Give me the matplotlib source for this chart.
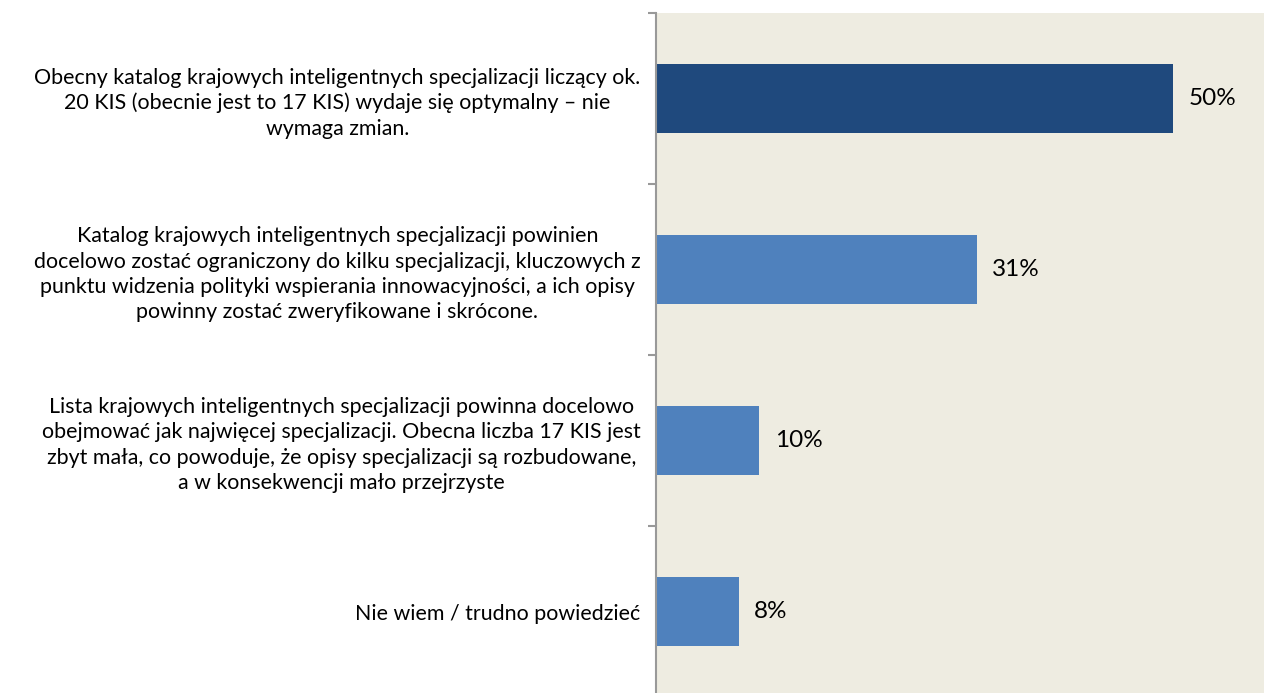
import matplotlib.pyplot as plt
import numpy as np

# survey answers, top to bottom
answers = [
    "Obecny katalog krajowych inteligentnych specjalizacji liczący ok.\n"
    "20 KIS (obecnie jest to 17 KIS) wydaje się optymalny – nie\n"
    "wymaga zmian.",
    "Katalog krajowych inteligentnych specjalizacji powinien\n"
    "docelowo zostać ograniczony do kilku specjalizacji, kluczowych z\n"
    "punktu widzenia polityki wspierania innowacyjności, a ich opisy\n"
    "powinny zostać zweryfikowane i skrócone.",
    "Lista krajowych inteligentnych specjalizacji powinna docelowo\n"
    "obejmować jak najwięcej specjalizacji. Obecna liczba 17 KIS jest\n"
    "zbyt mała, co powoduje, że opisy specjalizacji są rozbudowane,\n"
    "a w konsekwencji mało przejrzyste",
    "Nie wiem / trudno powiedzieć",
]
shares = [50, 31, 10, 8]
colors = ["#1F497D", "#4F81BD", "#4F81BD", "#4F81BD"]

plt.rcParams["font.family"] = ["Lato", "DejaVu Sans"]

fig = plt.figure(figsize=(12.64, 6.93), dpi=100)
ax = fig.add_axes([656 / 1264, -4 / 693, 608 / 1264, 684 / 693])
ax.set_facecolor("#EEECE1")

y = np.arange(len(shares))
ax.barh(y, shares, height=0.4, color=colors, zorder=2)
for yi, v in zip(y, shares):
    ax.text(v + 1.5, yi, f"{v}%", va="center", ha="left", fontsize=17.5)

ax.set_xlim(0, 58.8)
ax.set_ylim(len(shares) - 0.5, -0.5)
ax.set_xticks([])

# boundary ticks on the category axis, labels at the centres
ax.set_yticks(np.arange(len(shares) + 1) - 0.5)
ax.set_yticklabels([])
ax.tick_params(axis="y", which="major", length=6, width=1.5, color="#999999")
ax.set_yticks(y, minor=True)
ax.set_yticklabels(answers, minor=True, fontsize=15.4, multialignment="center",
                   linespacing=1.32)
ax.tick_params(axis="y", which="minor", length=0, pad=11)

for side in ["top", "right", "bottom"]:
    ax.spines[side].set_visible(False)
ax.spines["left"].set_color("#999999")
ax.spines["left"].set_linewidth(1.5)

fig.savefig("out.png", dpi=100)
